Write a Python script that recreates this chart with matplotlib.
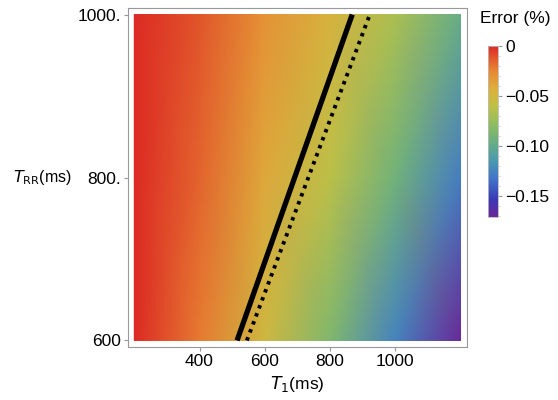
import numpy as np
import matplotlib
matplotlib.use('Agg')
import matplotlib.pyplot as plt
from matplotlib.colors import LinearSegmentedColormap

plt.rcParams['font.family'] = ['Liberation Sans', 'DejaVu Sans']

# Fehlerfeld (Zeilen: T_RR, Spalten: T_1)
t1_grid = [200, 400, 600, 800, 1000, 1200]
trr_grid = [600, 800, 1000]
error_600 = [0.0, -0.022, -0.052, -0.085, -0.125, -0.170]
error_800 = [0.0, -0.016, -0.040, -0.062, -0.092, -0.128]
error_1000 = [0.0, -0.012, -0.030, -0.046, -0.068, -0.097]

# Linien (T_1 bei T_RR = 600 und 1000)
line_trr = [600, 1000]
solid_t1 = [515, 868]
dotted_t1 = [545, 922]

cbar_ticks = [0, -0.05, -0.10, -0.15]
cbar_labels = ['0', '\u22120.05', '\u22120.10', '\u22120.15']

# Farbskala wie Mathematica "Rainbow"
cmap = LinearSegmentedColormap.from_list('rainbowish', [
    (0.00, '#6a2898'), (0.10, '#3b38b8'), (0.22, '#4272c8'),
    (0.33, '#4a9ab0'), (0.45, '#6cb07e'), (0.55, '#92be5e'),
    (0.65, '#c0c045'), (0.75, '#dcaf3c'), (0.85, '#e88a34'),
    (1.00, '#dc2a24')])

Z = np.array([error_600, error_800, error_1000])
T1, TRR = np.meshgrid(t1_grid, trr_grid)

fig = plt.figure(figsize=(5.58, 4.0), dpi=100)
ax = fig.add_axes([0.229, 0.1325, 0.608, 0.8475])
mesh = ax.pcolormesh(T1, TRR, Z, shading='gouraud', cmap=cmap, vmin=-0.171, vmax=0)
ax.plot(solid_t1, line_trr, color='black', lw=3.8, solid_capstyle='butt')
ax.plot(dotted_t1, line_trr, color='black', lw=2.8, linestyle=(0, (0.9, 1.3)))

ax.set_xlim(180, 1220)
ax.set_ylim(592, 1008)
ax.set_xticks([400, 600, 800, 1000])
ax.set_yticks([600, 800, 1000])
ax.set_yticklabels(['600', '800.', '1000.'])
for s in ax.spines.values():
    s.set_color('#999999')
    s.set_linewidth(0.8)
ax.tick_params(direction='out', length=3, color='#999999', labelsize=12.5, pad=2)

ax.set_xlabel(r'$T_1$(ms)', fontsize=12.5, labelpad=4)
ax.set_ylabel(r'$T_{\rm RR}$(ms)', fontsize=11.5, rotation=0, ha='right', va='center')
ax.yaxis.set_label_coords(-0.165, 0.5)

cax = fig.add_axes([0.8746, 0.4575, 0.018, 0.4275])
cb = fig.colorbar(mesh, cax=cax, ticks=cbar_ticks)
cb.ax.set_yticklabels(cbar_labels)
cb.outline.set_edgecolor('#bbbbbb')
cb.outline.set_linewidth(0.6)
cb.ax.tick_params(length=3, color='#999999', labelsize=12.5, pad=2)
cb.ax.set_yticks(np.arange(-0.17, 0.001, 0.01), minor=True)
cb.ax.tick_params(which='minor', length=1.5, color='#cccccc')
fig.text(0.86, 0.955, 'Error (%)', fontsize=12.5, ha='left', va='center')

fig.savefig('out.png', dpi=100)
